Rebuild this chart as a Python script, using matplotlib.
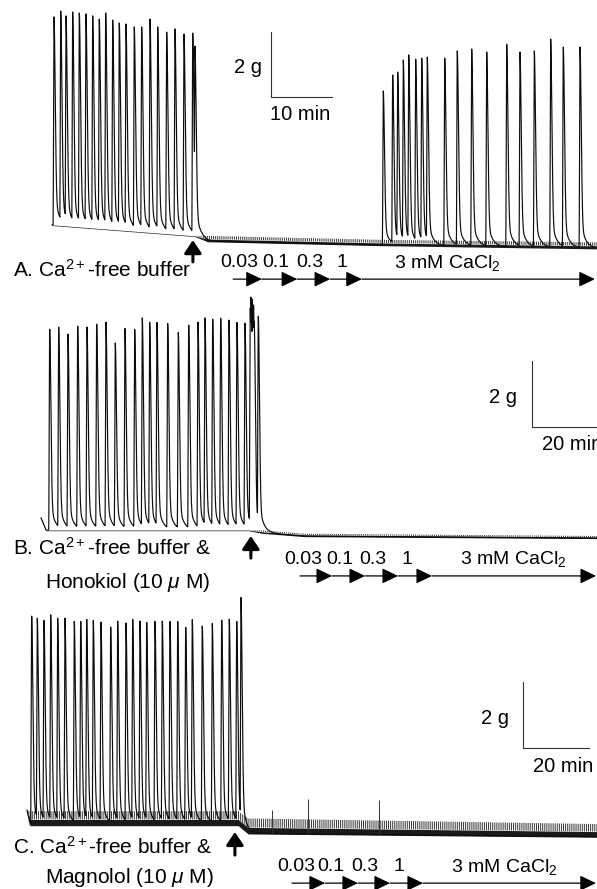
import numpy as np
import matplotlib
matplotlib.use('Agg')
import matplotlib.pyplot as plt

plt.rcParams['font.family'] = ['Liberation Sans', 'DejaVu Sans']
plt.rcParams['mathtext.fontset'] = 'custom'
plt.rcParams['mathtext.rm'] = 'Liberation Sans'
plt.rcParams['mathtext.it'] = 'Liberation Sans:italic'
plt.rcParams['mathtext.default'] = 'regular'
plt.rcParams['hatch.linewidth'] = 0.7

# ---- panel A: Ca2+-free buffer, then CaCl2 re-added (time in min, tension in g)
A_peak_t = [0.33, 1.43, 2.30, 3.39, 4.48, 5.57, 6.67, 7.75, 8.80, 9.95, 11.03,
            12.13, 13.49, 14.70, 16.07, 17.33, 18.80, 20.16, 21.64, 23.07, 23.44,
            54.31, 55.85, 56.67, 57.59, 58.48, 59.62, 60.61, 61.52, 64.38, 66.44,
            68.80, 71.26, 74.54, 76.72, 79.07, 81.75, 83.82, 86.56]
A_peak_g = [7.02, 7.20, 7.05, 7.17, 7.14, 7.11, 7.05, 6.95, 7.14, 6.92, 6.83,
            6.80, 6.71, 6.71, 6.95, 6.71, 6.55, 6.65, 6.49, 6.52, 6.12,
            4.74, 5.23, 5.32, 5.69, 5.85, 5.72, 5.75, 5.78, 5.75, 5.97,
            6.03, 5.94, 6.18, 5.94, 5.97, 6.34, 6.09, 6.09]
A_base_t = [0, 23.4, 25.5, 54.0, 89.5]
A_base_g = [0.62, 0.28, 0.12, 0.0, -0.10]
A_band_g = [0.0, 0.0, 0.16, 0.16, 0.18]
A_arrow_t = 23.1
A_conc_t = [29.7, 34.4, 40.2, 45.6, 50.8, 89.0]
A_label_t = [30.7, 36.7, 42.3, 47.5, 64.8]

# ---- panel B: Ca2+-free buffer & honokiol
B_peak_t = [2.64, 5.36, 8.18, 11.12, 13.94, 16.88, 19.70, 22.52, 25.45, 28.39,
            30.70, 32.94, 35.15, 38.39, 41.61, 44.76, 47.58, 49.70, 52.03, 54.45,
            56.97, 59.39, 61.82, 63.4, 63.6, 63.8, 64.0, 64.2, 64.4, 64.6, 65.85]
B_peak_g = [6.27, 6.33, 6.12, 6.36, 6.33, 6.42, 6.48, 5.85, 6.30, 6.27,
            6.61, 6.48, 6.48, 6.45, 6.18, 6.39, 6.48, 6.61, 6.58, 6.61,
            6.55, 6.48, 6.45, 6.90, 7.24, 6.60, 7.18, 6.80, 7.00, 6.50, 6.67]
B_base_t = [0, 1.5, 63.0, 67.0, 80.0, 169.0]
B_base_g = [0.55, 0.18, 0.18, 0.10, 0.0, -0.06]
B_band_g = [0.0, 0.0, 0.0, 0.07, 0.07, 0.06]
B_arrow_t = 63.6
B_conc_t = [78.5, 88.2, 98.2, 108.2, 118.5, 168.2]
B_label_t = [79.4, 90.6, 100.6, 110.9, 143.0]

# ---- panel C: Ca2+-free buffer & magnolol
C_peak_t = [1.42, 3.12, 5.15, 7.18, 9.30, 11.52, 14.33, 16.27, 18.09, 20.09,
            22.42, 25.36, 27.48, 30.00, 32.03, 34.24, 36.27, 38.79, 41.00, 43.33,
            45.67, 48.09, 50.09, 53.12, 56.15, 59.00, 61.30, 63.55, 64.85]
C_peak_g = [6.48, 6.42, 6.36, 6.52, 6.42, 6.42, 6.33, 6.33, 6.39, 6.36,
            6.30, 6.15, 6.33, 6.27, 6.39, 6.33, 6.30, 6.33, 6.33, 6.33,
            6.33, 6.15, 6.39, 6.18, 6.27, 6.36, 6.39, 6.33, 7.06]
C_base_t = [0, 1.0, 64.0, 67.0, 172.7]
C_base_g = [0.60, 0.15, 0.15, -0.10, -0.20]
C_band_g = [0.0, 0.42, 0.42, 0.45, 0.38]
C_spike_t = [74.2, 85.2, 106.7]
C_spike_g = [0.60, 0.94, 0.91]
C_arrow_t = 63.0
C_conc_t = [80.3, 90.3, 100.3, 110.0, 120.0, 172.4]
C_label_t = [81.5, 92.1, 102.4, 112.7, 144.5]

conc_labels = ['0.03', '0.1', '0.3', '1', r'3 mM CaCl$_2$']

W, H = 597, 889
fig = plt.figure(figsize=(W / 100, H / 100), dpi=100)


def make_panel(top_px, bottom_px, x0_px, ppm, y0_px, ppg):
    ax = fig.add_axes([0, 1 - bottom_px / H, 1, (bottom_px - top_px) / H])
    ax.set_xlim(-x0_px / ppm, (W - x0_px) / ppm)
    ax.set_ylim((y0_px - bottom_px) / ppg, (y0_px - top_px) / ppg)
    ax.axis('off')
    return ax


def twitch(dt, rise, tau):
    s = np.zeros_like(dt)
    up = (dt > -rise) & (dt <= 0)
    s[up] = 0.5 * (1 + np.cos(np.pi * dt[up] / rise))
    dn = dt > 0
    s[dn] = 0.84 * np.exp(-(dt[dn] / tau) ** 2) + 0.16 * np.exp(-dt[dn] / (2.5 * tau))
    return s


def draw_trace(ax, t_end, step, peak_t, peak_g, base_t, base_g, band_g, rise, tau):
    t = np.arange(0, t_end, step)
    base = np.interp(t, base_t, base_g)
    band = np.interp(t, base_t, band_g)
    y = base.copy()
    for tp, h in zip(peak_t, peak_g):
        b = np.interp(tp, base_t, base_g)
        y = np.maximum(y, base + (h - b) * twitch(t - tp, rise, tau))
    # noisy baseline drawn as a band: dense lower part, hatched upper part
    ax.fill_between(t, base - 0.02, base + band * 0.4, color='0.1', lw=0)
    ax.fill_between(t, base + band * 0.4, base + band, facecolor='none',
                    edgecolor='0.2', hatch='||||||||', lw=0)
    ax.plot(t, y, color='0.05', lw=0.85)
    return t, base


def annotate_panel(ax, arrow_t, tip_g, tail_g, conc_t, label_t, bar_g, label_g,
                   sb_t, sb_top, sb_bot, sb_min, gtxt_t, mintxt_t, mintxt_g, min_label):
    ax.annotate('', xy=(arrow_t, tip_g), xytext=(arrow_t, tail_g),
                arrowprops=dict(arrowstyle='-|>,head_length=0.6,head_width=0.4',
                                mutation_scale=13, lw=2.2, color='k',
                                shrinkA=0, shrinkB=0), annotation_clip=False)
    for i in range(len(conc_t) - 1):
        ax.annotate('', xy=(conc_t[i + 1], bar_g), xytext=(conc_t[i], bar_g),
                    arrowprops=dict(arrowstyle='-|>,head_length=0.75,head_width=0.36',
                                    mutation_scale=13, lw=0.9, color='k',
                                    shrinkA=0, shrinkB=0), annotation_clip=False)
    for lt, lab in zip(label_t, conc_labels):
        ax.text(lt, label_g, lab, ha='center', va='center', fontsize=14)
    # scale bar
    ax.plot([sb_t, sb_t, sb_t + sb_min], [sb_top, sb_bot, sb_bot], color='0.2',
            lw=0.8, clip_on=False, solid_joinstyle='miter')
    ax.text(gtxt_t, (sb_top + sb_bot) / 2 - 0.1, '2 g', ha='right', va='center',
            fontsize=14.5)
    ax.text(mintxt_t, mintxt_g, min_label, ha='left', va='center', fontsize=14.5)


# panel A
axA = make_panel(0, 290, 52, 6.1, 245, 32.5)
draw_trace(axA, 89.5, 0.01, A_peak_t, A_peak_g, A_base_t, A_base_g, A_band_g, 0.16, 0.28)
annotate_panel(axA, A_arrow_t, 0.15, -0.52, A_conc_t, A_label_t, -1.05, -0.55,
               35.9, 6.55, 4.55, 10, 34.4, 35.7, 4.0, '10 min')
axA.text(-6.4, -0.77, r'A. Ca$^{2+}$-free buffer', ha='left', va='center', fontsize=15)

# panel B
axB = make_panel(290, 595, 41, 3.3, 536, 33)
draw_trace(axB, 169, 0.02, B_peak_t, B_peak_g, B_base_t, B_base_g, B_band_g, 0.32, 0.5)
annotate_panel(axB, B_arrow_t, 0.0, -0.67, B_conc_t, B_label_t, -1.21, -0.70,
               148.8, 5.30, 3.30, 20, 144.2, 151.8, 2.76, '20 min')
axB.text(-8.48, -0.36, r'B. Ca$^{2+}$-free buffer &', ha='left', va='center', fontsize=15)
axB.text(1.21, -1.42, r'Honokiol (10 $\mathit{\mu}$ M)', ha='left', va='center', fontsize=15)

# panel C
axC = make_panel(595, 889, 27, 3.3, 830, 33)
tC, baseC = draw_trace(axC, 172.7, 0.02, C_peak_t, C_peak_g, C_base_t, C_base_g, C_band_g,
                       0.32, 0.5)
axC.vlines(C_spike_t, np.interp(C_spike_t, C_base_t, C_base_g), C_spike_g,
           color='0.2', lw=0.7)
annotate_panel(axC, C_arrow_t, -0.06, -0.76, C_conc_t, C_label_t, -1.61, -1.12,
               150.3, 4.48, 2.48, 20, 146.1, 153.3, 1.91, '20 min')
axC.text(-4.24, -0.52, r'C. Ca$^{2+}$-free buffer &', ha='left', va='center', fontsize=15)
axC.text(5.45, -1.45, r'Magnolol (10 $\mathit{\mu}$ M)', ha='left', va='center', fontsize=15)

fig.savefig('out.png', dpi=100)
